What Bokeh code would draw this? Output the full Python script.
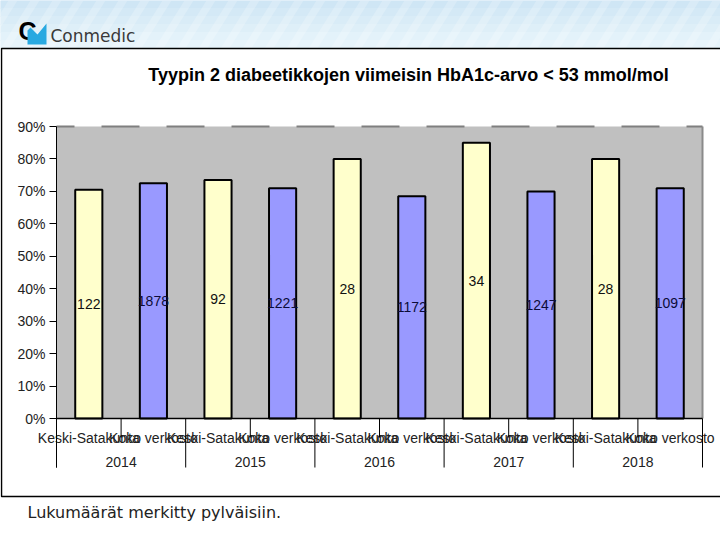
from bokeh.plotting import figure
from bokeh.models import (Range1d, FixedTicker, PrintfTickFormatter, LinearAxis,
                          ColumnDataSource)
from bokeh.embed import file_html
from bokeh.resources import INLINE
from bokeh.core.properties import value

# ---- data ----
years = ["2014", "2015", "2016", "2017", "2018"]
groups = ["Keski-Satakunta", "Koko verkosto"]
ks_pct = [70.5, 73.5, 80.0, 85.0, 80.0]
kv_pct = [72.5, 71.0, 68.5, 70.0, 71.0]
ks_n = [122, 92, 28, 34, 28]
kv_n = [1878, 1221, 1172, 1247, 1097]
y_ticks = [0, 10, 20, 30, 40, 50, 60, 70, 80, 90]
title_text = "Tyypin 2 diabeetikkojen viimeisin HbA1c-arvo < 53 mmol/mol"
note_text = "Lukumäärät merkitty pylväisiin."
logo_text = "Conmedic"

# ---- layout geometry (pixels from top-left) ----
W, H = 720, 540
PL, PR = 56, 702          # plot area left / right
PY0, PYT = 418, 126       # pixel rows of 0 % and 90 %
HEAD = 48                 # header band height
FONT = "Liberation Sans"

n_slots = len(years) * len(groups)
y_top = max(y_ticks)
sx = (PR - PL) / n_slots
sy = (PY0 - PYT) / y_top

def dy(px):               # pixel row -> data y
    return (PY0 - px) / sy

def fy(px):               # pixel row -> "px" range y (measured upward)
    return H - px

p = figure(width=W, height=H,
           x_range=Range1d(-PL / sx, n_slots + (W - PR) / sx),
           y_range=Range1d(dy(H), dy(0)),
           output_backend="svg", toolbar_location=None,
           x_axis_location=None, y_axis_location=None,
           min_border=0, background_fill_color="white", border_fill_color="white",
           outline_line_color=None)
p.xgrid.visible = False
p.ygrid.visible = False
p.extra_x_ranges["px"] = Range1d(0, W)
p.extra_y_ranges["px"] = Range1d(0, H)
PX = dict(x_range_name="px", y_range_name="px")

# ---- header band (vertical gradient + faint diagonal stripes) ----
band_cols = ["#CFE6F5", "#D4E9F6", "#D9ECF7", "#DEEFF8", "#E3F2FA", "#E8F4FB"]
bh = HEAD / len(band_cols)
bxs, bys = [], []
for i in range(len(band_cols)):
    bxs.append([0, W, W, 0])
    bys.append([fy(i * bh), fy(i * bh), fy((i + 1) * bh), fy((i + 1) * bh)])
p.patches(xs=bxs, ys=bys, fill_color=band_cols, line_color=band_cols, line_width=1, **PX)
sxs, sys_ = [], []
for k in range(-3, W // 22 + 2):
    x0 = k * 22
    sxs.append([x0, x0 + 9, x0 + 9 + 30, x0 + 30])
    sys_.append([fy(HEAD), fy(HEAD), fy(0), fy(0)])
p.patches(xs=sxs, ys=sys_, fill_color="white", fill_alpha=0.22, line_color=None, **PX)

# logo
p.text(x=[18], y=[fy(30)], text=["C"], text_font=value(FONT), text_font_style="bold",
       text_font_size="25px", text_color="black", text_baseline="middle",
       text_align="left", **PX)
p.patch(x=[27, 27, 30, 37, 46, 46], y=[fy(44), fy(30), fy(27), fy(34), fy(23), fy(44)],
        fill_color="#29A9E1", line_color=None, **PX)
p.text(x=[50], y=[fy(35)], text=[logo_text], text_font=value("DejaVu Sans"),
       text_font_size="17px", text_color="#3a3a3a", text_baseline="middle",
       text_align="left", **PX)

# outer box
p.line(x=[W + 5, 1, 1, W + 5], y=[fy(HEAD), fy(HEAD), fy(496), fy(496)], line_color="black",
       line_width=1.5, **PX)

# title and footnote
p.text(x=[408], y=[fy(74)], text=[title_text], text_font=value(FONT), text_font_style="bold",
       text_font_size="18px", text_color="black", text_baseline="middle",
       text_align="center", **PX)
p.text(x=[27], y=[fy(512)], text=[note_text], text_font=value("DejaVu Sans"),
       text_font_size="16px", text_color="#222222", text_baseline="middle",
       text_align="left", **PX)

# ---- plot area ----
y_bot = dy(467)
p.quad(left=0, right=n_slots, bottom=0, top=y_top, fill_color="#C0C0C0", line_color=None)
p.line([0, n_slots], [y_top, y_top], line_color="#7f7f7f", line_width=2,
       line_dash="38 27", line_dash_offset=20)
p.line([n_slots, n_slots], [0, y_top], line_color="#8a8a8a", line_width=2)

# y axis
ax = LinearAxis(fixed_location=0, ticker=FixedTicker(ticks=y_ticks),
                formatter=PrintfTickFormatter(format="%d%%"))
ax.axis_line_color = None
ax.major_tick_line_color = "black"
ax.major_tick_out = 7
ax.major_tick_in = 0
ax.minor_tick_line_color = None
ax.major_label_text_font = FONT
ax.major_label_text_font_size = "14px"
ax.major_label_text_color = "#222222"
ax.major_label_standoff = 4
p.add_layout(ax, "left")
p.line([0, 0], [y_top, y_bot], line_color="black", line_width=1)

# bars
xs, tops, fills, counts, tcolors, cats = [], [], [], [], [], []
for yi, yr in enumerate(years):
    for gi, g in enumerate(groups):
        xs.append(2 * yi + gi + 0.5)
        v = ks_pct[yi] if gi == 0 else kv_pct[yi]
        n = ks_n[yi] if gi == 0 else kv_n[yi]
        tops.append(v)
        counts.append(str(n))
        fills.append("#FFFFCC" if gi == 0 else "#9999FF")
        tcolors.append("#111111" if gi == 0 else "#0c0c38")
        cats.append(g)
src = ColumnDataSource(dict(x=xs, top=tops, mid=[t / 2 for t in tops], fill=fills,
                            n=counts, tc=tcolors, cat=cats))
p.vbar(x="x", top="top", bottom=0, width=0.42, fill_color="fill", line_color="black",
       line_width=2, source=src)
p.line([0, n_slots], [0, 0], line_color="black", line_width=1.5)
p.text(x="x", y="mid", text="n", text_color="tc", text_align="center", text_baseline="middle",
       text_font=value(FONT), text_font_size="14px", source=src)

# category axis (two levels)
p.text(x="x", y=dy(437), text="cat", text_align="center", text_baseline="middle",
       text_font=value(FONT), text_font_size="14px", text_color="#222222", source=src)
p.text(x=[2 * i + 1 for i in range(len(years))], y=dy(461), text=years, text_align="center",
       text_baseline="middle", text_font=value(FONT), text_font_size="14px", text_color="#222222")
long_x = [2 * i for i in range(len(years) + 1)]
short_x = [2 * i + 1 for i in range(len(years))]
p.segment(x0=long_x, y0=0, x1=long_x, y1=y_bot, line_color="black", line_width=1)
p.segment(x0=short_x, y0=0, x1=short_x, y1=dy(437), line_color="black", line_width=1)

open("out.html", "w").write(file_html(p, INLINE))
